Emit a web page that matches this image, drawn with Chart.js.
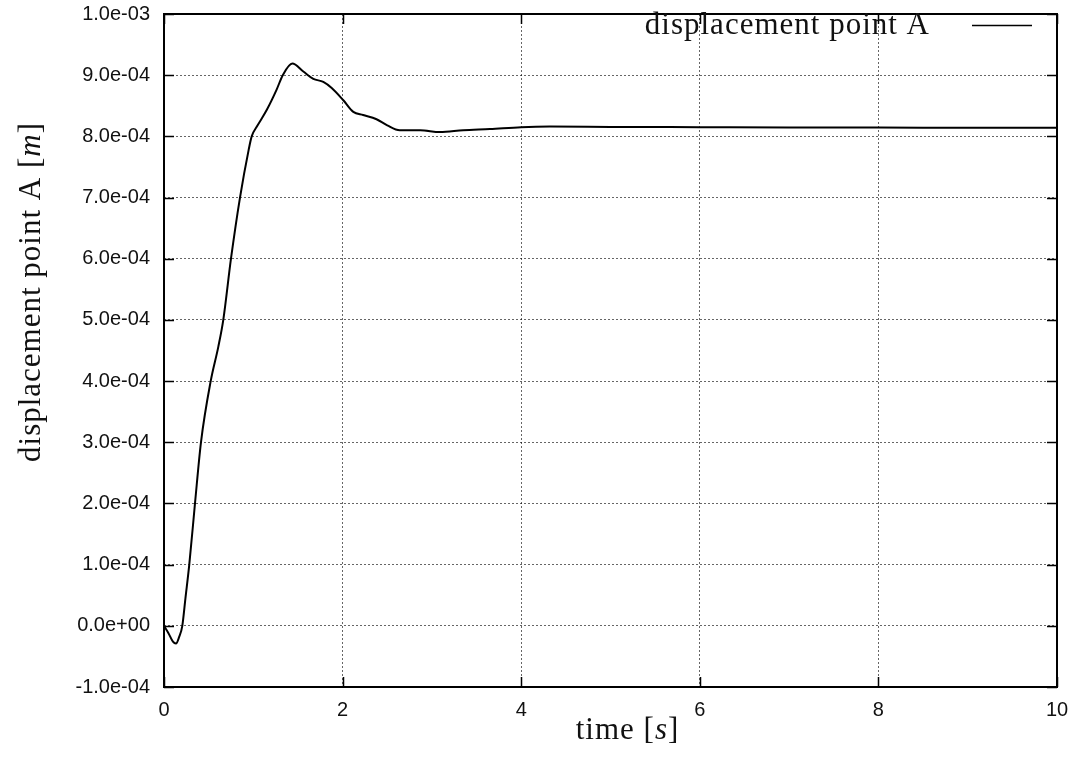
<!DOCTYPE html>
<html>
<head>
<meta charset="utf-8">
<script src="https://cdn.jsdelivr.net/npm/chart.js@4/dist/chart.umd.min.js"></script>
<style>
  html, body { margin: 0; padding: 0; background: #fff; }
  canvas { display: block; }
</style>
</head>
<body>
<canvas id="dispChart" width="1076" height="761"></canvas>
<script>
// time [s]
const timeValues = [
  0.00, 0.05, 0.10, 0.134, 0.17, 0.205, 0.24, 0.283, 0.347, 0.414,
  0.523, 0.608, 0.664, 0.75, 0.851, 0.948, 0.982, 1.04, 1.15, 1.26,
  1.33, 1.437, 1.56, 1.672, 1.784, 1.878, 2.008, 2.12, 2.23, 2.38,
  2.50, 2.64, 2.87, 3.09, 3.35, 3.65, 4.00, 4.32, 5.0, 6.0,
  7.0, 8.0, 9.0, 10.0
];
// displacement of point A [m]
const displacementValues = [
  0.00e-4, -0.12e-4, -0.26e-4, -0.29e-4, -0.18e-4, 0.00e-4, 0.45e-4, 1.00e-4, 2.00e-4, 3.00e-4,
  4.00e-4, 4.56e-4, 5.00e-4, 6.00e-4, 7.00e-4, 7.78e-4, 8.00e-4, 8.16e-4, 8.43e-4, 8.76e-4,
  9.00e-4, 9.19e-4, 9.06e-4, 8.94e-4, 8.89e-4, 8.79e-4, 8.59e-4, 8.40e-4, 8.35e-4, 8.28e-4,
  8.18e-4, 8.10e-4, 8.10e-4, 8.07e-4, 8.10e-4, 8.12e-4, 8.15e-4, 8.16e-4, 8.155e-4, 8.15e-4,
  8.145e-4, 8.145e-4, 8.14e-4, 8.14e-4
];
const seriesLabel = 'displacement point A';

// axis ranges / tick steps
const xRange = [0, 10], xStep = 2;
const yRange = [-1e-4, 1e-3], yStep = 1e-4;

const serif = '"Liberation Serif", "Times New Roman", serif';

// gnuplot-like "1.0e-04" labels
function expLabel(v) {
  if (Math.abs(v) < 1e-12) return '0.0e+00';
  const parts = v.toExponential(1).split('e');
  let exp = parseInt(parts[1], 10);
  const sign = exp < 0 ? '-' : '+';
  exp = Math.abs(exp);
  return parts[0] + 'e' + sign + (exp < 10 ? '0' : '') + exp;
}

// draw a string made of [text, italic] pieces centred at 0,0
function drawMixed(ctx, pieces, size) {
  let total = 0;
  const widths = pieces.map(p => {
    ctx.font = (p[1] ? 'italic ' : '') + size + 'px ' + serif;
    const w = ctx.measureText(p[0]).width;
    total += w;
    return w;
  });
  let x = -total / 2;
  pieces.forEach((p, i) => {
    ctx.font = (p[1] ? 'italic ' : '') + size + 'px ' + serif;
    ctx.fillText(p[0], x, 0);
    x += widths[i];
  });
}

// frame, inward ticks, axis titles and key
const gnuplotDecor = {
  id: 'gnuplotDecor',
  afterDraw(chart) {
    const ctx = chart.ctx;
    const a = chart.chartArea;
    const xs = chart.scales.x, ys = chart.scales.y;
    ctx.save();
    ctx.strokeStyle = '#000';
    ctx.lineWidth = 1.5;
    ctx.beginPath();
    xs.ticks.forEach(t => {
      const px = Math.round(xs.getPixelForValue(t.value)) + 0.5;
      ctx.moveTo(px, a.bottom); ctx.lineTo(px, a.bottom - 10);
      ctx.moveTo(px, a.top); ctx.lineTo(px, a.top + 10);
    });
    ys.ticks.forEach(t => {
      const py = Math.round(ys.getPixelForValue(t.value)) + 0.5;
      ctx.moveTo(a.left, py); ctx.lineTo(a.left + 10, py);
      ctx.moveTo(a.right, py); ctx.lineTo(a.right - 10, py);
    });
    ctx.stroke();

    ctx.lineWidth = 2;
    ctx.strokeRect(a.left, a.top, a.right - a.left, a.bottom - a.top);

    // axis titles
    ctx.fillStyle = '#111';
    ctx.textBaseline = 'alphabetic';
    ctx.textAlign = 'left';
    if ('letterSpacing' in ctx) ctx.letterSpacing = '1px';
    ctx.save();
    ctx.translate(a.left + (a.right - a.left) / 2 + 17, 739);
    drawMixed(ctx, [['time [', false], ['s', true], [']', false]], 31);
    ctx.restore();

    ctx.save();
    ctx.translate(40, 292);
    ctx.rotate(-Math.PI / 2);
    drawMixed(ctx, [['displacement point A [', false], ['m', true], [']', false]], 31);
    ctx.restore();

    // key
    const ds = chart.data.datasets[0];
    ctx.font = '31px ' + serif;
    ctx.textAlign = 'right';
    ctx.fillText(ds.label, a.right - 127, a.top + 20);
    ctx.strokeStyle = ds.borderColor;
    ctx.lineWidth = 1.5;
    ctx.beginPath();
    ctx.moveTo(a.right - 85, a.top + 11.5);
    ctx.lineTo(a.right - 25, a.top + 11.5);
    ctx.stroke();
    ctx.restore();
  }
};

const gridStyle = {
  color: 'rgba(0,0,0,0.6)',
  lineWidth: 1,
  drawTicks: false
};

new Chart(document.getElementById('dispChart'), {
  type: 'line',
  data: {
    labels: timeValues,
    datasets: [{
      label: seriesLabel,
      data: timeValues.map((t, i) => ({ x: t, y: displacementValues[i] })),
      borderColor: '#000',
      borderWidth: 2,
      pointRadius: 0,
      fill: false,
      cubicInterpolationMode: 'monotone'
    }]
  },
  options: {
    responsive: false,
    animation: false,
    events: [],
    layout: { padding: { left: 0, right: 19, top: 14, bottom: 0 } },
    plugins: {
      legend: { display: false },
      tooltip: { enabled: false }
    },
    scales: {
      x: {
        type: 'linear',
        min: xRange[0],
        max: xRange[1],
        grid: gridStyle,
        border: { display: false, dash: [2, 2] },
        ticks: {
          stepSize: xStep,
          padding: 11,
          maxRotation: 0,
          color: '#111',
          font: { family: '"Liberation Sans", Arial, sans-serif', size: 20 }
        },
        afterFit(scale) {
          scale.height = 74;
          scale.paddingLeft = 0;
          scale.paddingRight = 0;
        }
      },
      y: {
        min: yRange[0],
        max: yRange[1],
        grid: gridStyle,
        border: { display: false, dash: [2, 2] },
        ticks: {
          stepSize: yStep,
          padding: 14,
          color: '#111',
          font: { family: '"Liberation Sans", Arial, sans-serif', size: 20 },
          callback: v => expLabel(v)
        },
        afterFit(scale) {
          scale.width = 164;
          scale.paddingTop = 0;
          scale.paddingBottom = 0;
        }
      }
    }
  },
  plugins: [gnuplotDecor]
});
</script>
</body>
</html>
